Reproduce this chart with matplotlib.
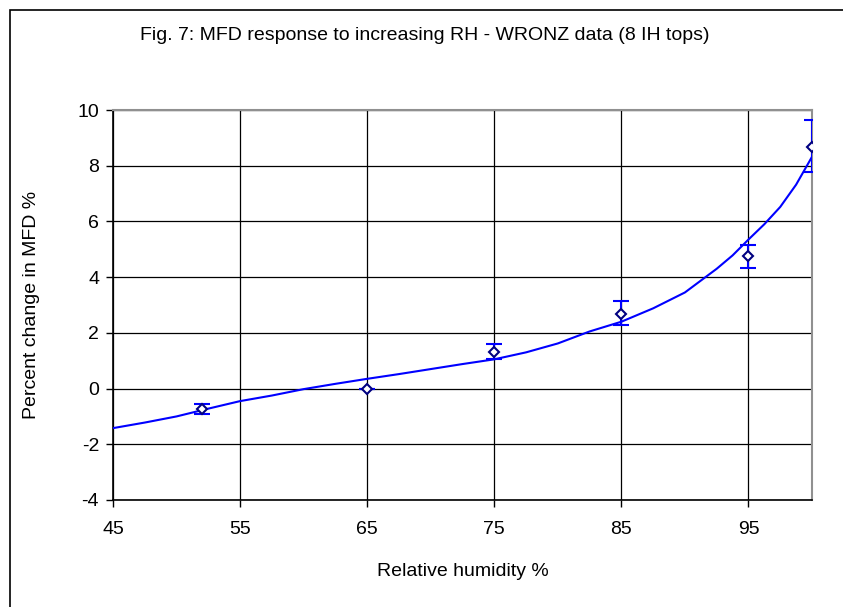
# MFD response to increasing RH (WRONZ data, 8 IH tops)
import numpy as np
import matplotlib.pyplot as plt
from matplotlib.patches import Rectangle

plt.rcParams['font.family'] = ['Liberation Sans', 'DejaVu Sans']
plt.rcParams['axes.unicode_minus'] = False

# measured points with error bars
rh_points = [52, 65, 75, 85, 95, 100]
mfd_change = [-0.75, 0.0, 1.32, 2.69, 4.76, 8.68]
err_low = [0.18, 0.0, 0.26, 0.42, 0.42, 0.90]
err_high = [0.20, 0.0, 0.27, 0.46, 0.40, 0.95]

# fitted response curve
rh_curve = [45, 47.5, 50, 52.5, 55, 57.5, 60, 62.5, 65, 67.5, 70, 72.5, 75,
            77.5, 80, 82.5, 85, 87.5, 90, 92.5, 93.75, 95, 96.25, 97.5, 98.75, 100]
mfd_curve = [-1.42, -1.22, -1.0, -0.72, -0.45, -0.25, -0.02, 0.17, 0.35, 0.52, 0.70, 0.88, 1.05,
             1.30, 1.62, 2.05, 2.40, 2.88, 3.45, 4.30, 4.78, 5.35, 5.90, 6.52, 7.32, 8.32]

fig = plt.figure(figsize=(8.43, 6.07), dpi=100)
ax = fig.add_axes([113 / 843, 1 - 500 / 607, (812 - 113) / 843, (500 - 110) / 607])

# chart border (only top/left visible in the original)
fig.patches.append(Rectangle((10 / 843, -1), 2, 2 - 10 / 607, transform=fig.transFigure,
                             fill=False, edgecolor='black', linewidth=1.2))

ax.plot(rh_curve, mfd_curve, color='#0000ff', linewidth=1.5, zorder=3)
ax.errorbar(rh_points, mfd_change, yerr=[err_low, err_high], fmt='none',
            ecolor='#0000ff', elinewidth=1.5, capsize=6, capthick=1.5, zorder=4)
ax.plot(rh_points, mfd_change, linestyle='none', marker='D', markersize=5,
        markerfacecolor='white', markeredgecolor='#000080', markeredgewidth=1.5, zorder=5)

ax.set_xlim(45, 100)
ax.set_ylim(-4, 10)
ax.set_xticks(np.arange(45, 100, 10))
ax.set_yticks(np.arange(-4, 11, 2))
ax.grid(True, color='black', linewidth=0.9)
ax.set_axisbelow(True)

for side in ['top', 'right']:
    ax.spines[side].set_color('#909090')
    ax.spines[side].set_linewidth(1.5)
for side in ['left', 'bottom']:
    ax.spines[side].set_color('black')
    ax.spines[side].set_linewidth(1.2)

ax.tick_params(axis='both', direction='out', length=5, width=1, labelsize=14)
ax.tick_params(axis='x', pad=10)
ax.tick_params(axis='y', pad=5)

ax.set_xlabel('Relative humidity %', fontsize=14, labelpad=18)
ax.set_ylabel('Percent change in MFD %', fontsize=14, labelpad=27)
fig.text(425 / 843, 1 - 35 / 607, 'Fig. 7: MFD response to increasing RH - WRONZ data (8 IH tops)',
         ha='center', va='center', fontsize=14)

fig.savefig('out.png', dpi=100)
